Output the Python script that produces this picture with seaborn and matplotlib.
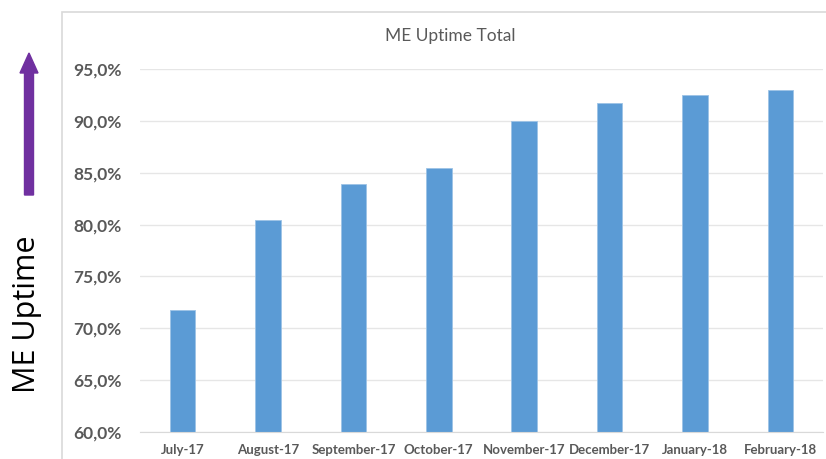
import matplotlib
matplotlib.use("Agg")
import matplotlib.pyplot as plt
import seaborn as sns
import pandas as pd
from matplotlib.patches import Rectangle, FancyArrow
from matplotlib.ticker import FuncFormatter, FixedLocator

# Monthly ME uptime (percent)
months = ["July-17", "August-17", "September-17", "October-17",
          "November-17", "December-17", "January-18", "February-18"]
uptime = [71.8, 80.4, 83.9, 85.5, 90.0, 91.7, 92.5, 93.0]
y_ticks = [60, 65, 70, 75, 80, 85, 90, 95]

data = pd.DataFrame({"Month": months, "Uptime": uptime})

sns.set_style("white")
plt.rcParams["font.family"] = ["Lato", "DejaVu Sans"]

W, H = 826, 459
fig = plt.figure(figsize=(W / 100, H / 100), dpi=100)

# chart frame (Excel style, cut off at the right/bottom)
fig.patches.append(Rectangle((62 / W, -0.1), 1.2, (H - 12) / H + 0.1,
                             transform=fig.transFigure, fill=False,
                             edgecolor="#d9d9d9", linewidth=1.2))

ax = fig.add_axes([140 / W, (H - 432) / H, (823 - 140) / W, (432 - 69) / H])
sns.barplot(data=data, x="Month", y="Uptime", color="#5b9bd5",
            width=0.3, saturation=1, edgecolor="#9dc3e6", linewidth=0.6, ax=ax)

ax.set_ylim(60, 95)
ax.set_xlim(-0.5, len(months) - 0.5)
ax.yaxis.set_major_locator(FixedLocator(y_ticks))
ax.yaxis.set_major_formatter(FuncFormatter(lambda v, p: f"{v:.1f}%".replace(".", ",")))
ax.grid(axis="y", color="#e6e6e6", linewidth=1)
ax.set_axisbelow(True)
for s in ["top", "right", "left"]:
    ax.spines[s].set_visible(False)
ax.spines["bottom"].set_color("#d9d9d9")
ax.set_xlabel("")
ax.set_ylabel("")

ax.tick_params(axis="y", length=0, pad=13, labelsize=12.5, labelcolor="#595959")
ax.tick_params(axis="x", length=0, pad=9, labelsize=9.5, labelcolor="#595959")
for lab in ax.get_yticklabels() + ax.get_xticklabels():
    lab.set_fontweight("bold")

# small tick marks at category boundaries
ax.xaxis.set_minor_locator(FixedLocator([i - 0.5 for i in range(len(months) + 1)]))
ax.tick_params(axis="x", which="minor", length=4, color="#d9d9d9", direction="out")

fig.text(450 / W, 1 - 36 / H, "ME Uptime Total", ha="center", va="center",
         fontsize=12.5, color="#595959")

# outer axis label with arrow
fig.text(27 / W, 1 - 314 / H, "ME Uptime", rotation=90, ha="center",
         va="center", fontsize=22, color="black", family=["Open Sans", "DejaVu Sans"])
fig.patches.append(FancyArrow(29 / W, 1 - 195 / H, 0, (195 - 53) / H,
                              width=9 / W, head_width=18 / W, head_length=20 / H,
                              length_includes_head=True, transform=fig.transFigure,
                              color="#7030a0"))

fig.savefig("out.png", dpi=100)
